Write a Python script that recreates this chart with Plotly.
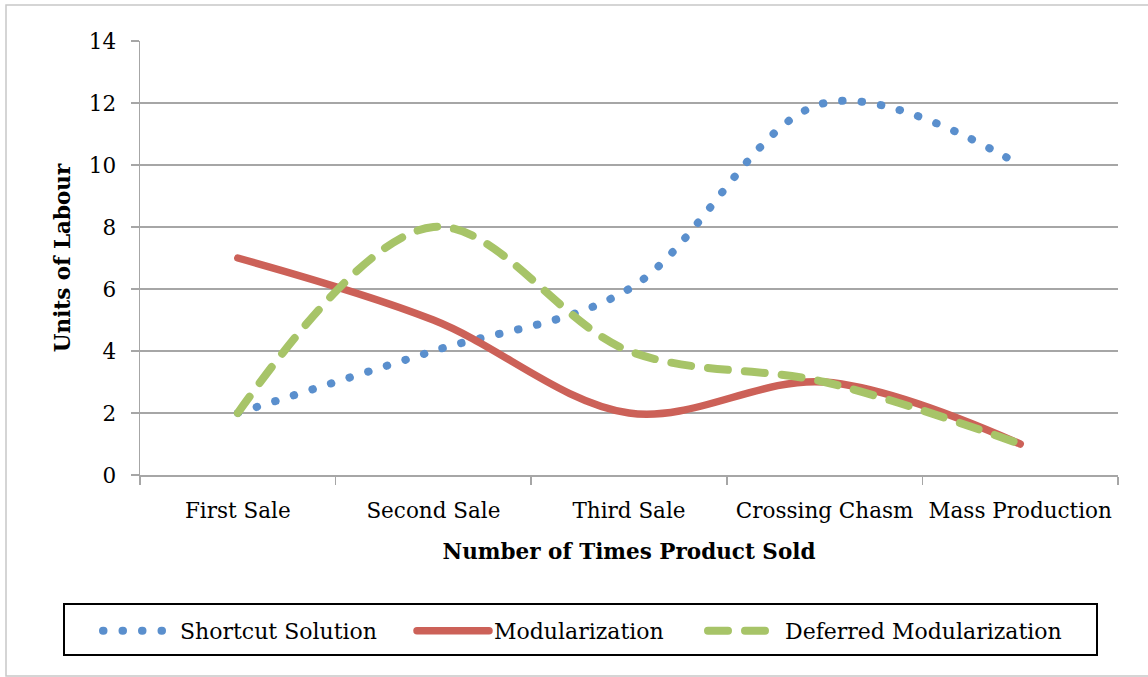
import plotly.graph_objects as go

categories = ["First Sale", "Second Sale", "Third Sale", "Crossing Chasm", "Mass Production"]
shortcut = [2, 4, 6, 12, 10]
modularization = [7, 5, 2, 3, 1]
deferred = [2, 8, 4, 3, 1]

y_ticks = [0, 2, 4, 6, 8, 10, 12, 14]

FONT = "DejaVu Serif"
GRID = "#A6A6A6"
FS = 21.5

fig = go.Figure()
fig.add_trace(go.Scatter(
    x=categories, y=shortcut, name="Shortcut Solution", mode="lines", legend="legend",
    line=dict(color="#5A8FCD", width=8, dash="0.5px,19px", shape="spline", smoothing=1),
))
fig.add_trace(go.Scatter(
    x=categories, y=modularization, name="Modularization", mode="lines", legend="legend2",
    line=dict(color="#CC6158", width=7.5, shape="spline", smoothing=1),
))
fig.add_trace(go.Scatter(
    x=categories, y=deferred, name="Deferred Modularization", mode="lines", legend="legend3",
    line=dict(color="#A7C468", width=8, dash="20px,17px", shape="spline", smoothing=1),
))

L, R, T, B = 140, 30, 41, 202
W, H = 1148, 677
pw, ph = W - L - R, H - T - B

def px_x(x):
    return (x - L) / pw

def px_y(y):
    return (H - B - y) / ph

def leg(xpix):
    return dict(
        orientation="h", x=px_x(xpix), xanchor="left", y=px_y(610), yanchor="top",
        bgcolor="rgba(0,0,0,0)", borderwidth=0,
        font=dict(family=FONT, size=22, color="black"),
        itemwidth=72,
    )

fig.update_layout(
    width=W, height=H,
    margin=dict(l=L, r=R, t=T, b=B, pad=0),
    paper_bgcolor="white", plot_bgcolor="white",
    font=dict(family=FONT, size=FS, color="black"),
    showlegend=True,
    legend=leg(98),
    legend2=leg(412),
    legend3=leg(703),
    xaxis=dict(
        type="category", range=[-0.5, 4.5], showgrid=False, zeroline=False,
        showline=True, linecolor=GRID, linewidth=1.5,
        ticks="outside", tickson="boundaries", ticklen=8, tickcolor=GRID, tickwidth=1.5,
        tickfont=dict(family=FONT, size=FS, color="black"), ticklabelstandoff=16,
        title=dict(text="<b>Number of Times Product Sold</b>", font=dict(family=FONT, size=FS), standoff=21),
        fixedrange=True,
    ),
    yaxis=dict(
        range=[0, 14], tickvals=y_ticks, showgrid=True, gridcolor=GRID, gridwidth=1.5,
        zeroline=False, showline=True, linecolor=GRID, linewidth=1.5,
        ticks="outside", ticklen=8, tickcolor=GRID, tickwidth=1.5,
        tickfont=dict(family=FONT, size=FS, color="black"), ticklabelstandoff=10,
        title=dict(text="<b>Units of Labour</b>", font=dict(family=FONT, size=FS), standoff=12),
        fixedrange=True,
    ),
    shapes=[
        dict(
            type="rect", xref="paper", yref="paper",
            x0=px_x(6), x1=px_x(1160), y0=px_y(676), y1=px_y(5),
            line=dict(color="#C8C8C8", width=1.5), fillcolor="rgba(0,0,0,0)", layer="below",
        ),
        dict(
            type="rect", xref="paper", yref="paper",
            x0=px_x(64), x1=px_x(1097), y0=px_y(655), y1=px_y(604),
            line=dict(color="black", width=2), fillcolor="rgba(0,0,0,0)", layer="below",
        ),
    ],
)

post = """
var fix = function(){
  document.querySelectorAll('.scatterlayer path.js-line, .legendlines path').forEach(function(p){
    p.style.strokeLinecap = 'round';
    p.style.strokeLinejoin = 'round';
  });
};
fix();
var gd = document.querySelector('.plotly-graph-div');
if (gd && gd.on) { gd.on('plotly_afterplot', fix); }
"""

fig.write_html("out.html", post_script=post, config={"staticPlot": True})
